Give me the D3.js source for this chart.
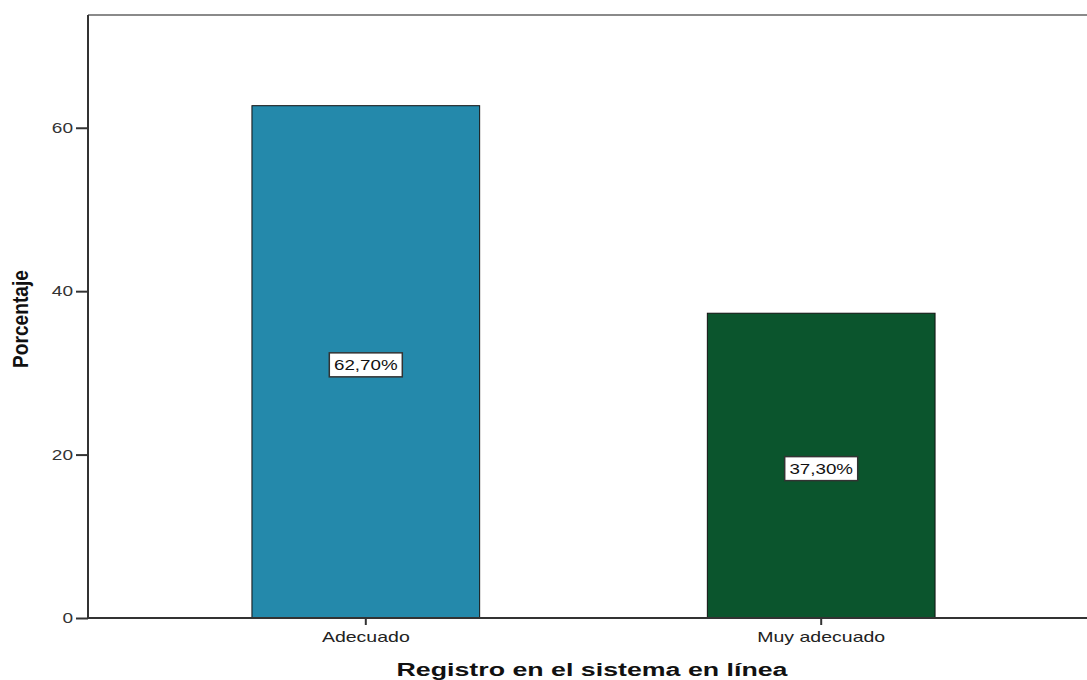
<!DOCTYPE html>
<html>
<head>
<meta charset="utf-8">
<script src="https://cdn.jsdelivr.net/npm/d3@7"></script>
<style>
  body { margin: 0; background: #fff; }
  svg { display: block; font-family: "Liberation Sans", Arial, sans-serif; }
</style>
</head>
<body>
<svg id="chart" width="1087" height="680"></svg>
<script>
var categories = ["Adecuado", "Muy adecuado"];
var values = [62.7, 37.3];
var valueLabels = ["62,70%", "37,30%"];
var barColors = ["#2489ab", "#0b552d"];
var yTicks = [0, 20, 40, 60];

var svg = d3.select("#chart");
var plotLeft = 88, plotRight = 1099, plotTop = 15, plotBottom = 618;

// the source picture has its text stretched sideways
function widen(sel, k) {
  sel.each(function() {
    var w = this.getComputedTextLength();
    d3.select(this).attr("textLength", w * k).attr("lengthAdjust", "spacingAndGlyphs");
  });
}

var x = d3.scaleBand()
  .domain(categories)
  .range([plotLeft, plotRight])
  .paddingInner(0.5)
  .paddingOuter(0.36);

var y = d3.scaleLinear()
  .domain([0, 73.8])
  .range([plotBottom, plotTop]);

// top frame line
svg.append("line")
  .attr("x1", plotLeft).attr("x2", 1087)
  .attr("y1", plotTop).attr("y2", plotTop)
  .attr("stroke", "#8a8a8a")
  .attr("stroke-width", 2);

// bars
svg.selectAll("rect.bar")
  .data(values)
  .enter().append("rect")
  .attr("class", "bar")
  .attr("x", function(d, i) { return x(categories[i]); })
  .attr("y", function(d) { return y(d); })
  .attr("width", x.bandwidth())
  .attr("height", function(d) { return y(0) - y(d); })
  .attr("fill", function(d, i) { return barColors[i]; })
  .attr("stroke", "#111")
  .attr("stroke-width", 1);

// y axis
var yAxis = svg.append("g")
  .attr("transform", "translate(" + plotLeft + ",0)")
  .call(d3.axisLeft(y).tickValues(yTicks).tickSize(12).tickPadding(3).tickFormat(d3.format("d")));
yAxis.select(".domain").attr("stroke", "#333").attr("stroke-width", 2)
  .attr("d", "M0," + plotTop + "V" + plotBottom);
yAxis.selectAll(".tick line").attr("stroke", "#333").attr("stroke-width", 2);
yAxis.selectAll(".tick text").attr("fill", "#333").style("font-size", "15px")
  .attr("font-family", "Liberation Sans, Arial, sans-serif")
  .call(widen, 1.27);

// x axis
var xAxis = svg.append("g")
  .attr("transform", "translate(0," + plotBottom + ")")
  .call(d3.axisBottom(x).tickSize(7).tickPadding(6));
xAxis.select(".domain").attr("stroke", "#333").attr("stroke-width", 2)
  .attr("d", "M" + plotLeft + ",0H1087");
xAxis.selectAll(".tick line").attr("stroke", "#333").attr("stroke-width", 2);
xAxis.selectAll(".tick text").attr("fill", "#222").style("font-size", "15px")
  .attr("font-family", "Liberation Sans, Arial, sans-serif")
  .call(widen, 1.3);

// value labels
var lbl = svg.selectAll("g.vlabel")
  .data(values)
  .enter().append("g")
  .attr("class", "vlabel")
  .attr("transform", function(d, i) {
    return "translate(" + (x(categories[i]) + x.bandwidth() / 2) + "," + (y(d / 2) + 3) + ")";
  });
lbl.append("rect")
  .attr("x", -36.5).attr("y", -12)
  .attr("width", 73).attr("height", 24)
  .attr("fill", "#fff")
  .attr("stroke", "#333")
  .attr("stroke-width", 1.5);
lbl.append("text")
  .attr("text-anchor", "middle")
  .attr("dy", "0.36em")
  .style("font-size", "15px")
  .attr("fill", "#111")
  .text(function(d, i) { return valueLabels[i]; })
  .call(widen, 1.25);

// axis titles
svg.append("text")
  .attr("transform", "translate(28,319) rotate(-90) scale(1,1.2)")
  .attr("text-anchor", "middle")
  .style("font-size", "18px")
  .style("font-weight", "bold")
  .attr("fill", "#111")
  .attr("textLength", 98)
  .attr("lengthAdjust", "spacingAndGlyphs")
  .text("Porcentaje");

svg.append("text")
  .attr("x", 592).attr("y", 676)
  .attr("text-anchor", "middle")
  .style("font-size", "18px")
  .style("font-weight", "bold")
  .attr("fill", "#111")
  .attr("textLength", 391)
  .attr("lengthAdjust", "spacingAndGlyphs")
  .text("Registro en el sistema en línea");
</script>
</body>
</html>
